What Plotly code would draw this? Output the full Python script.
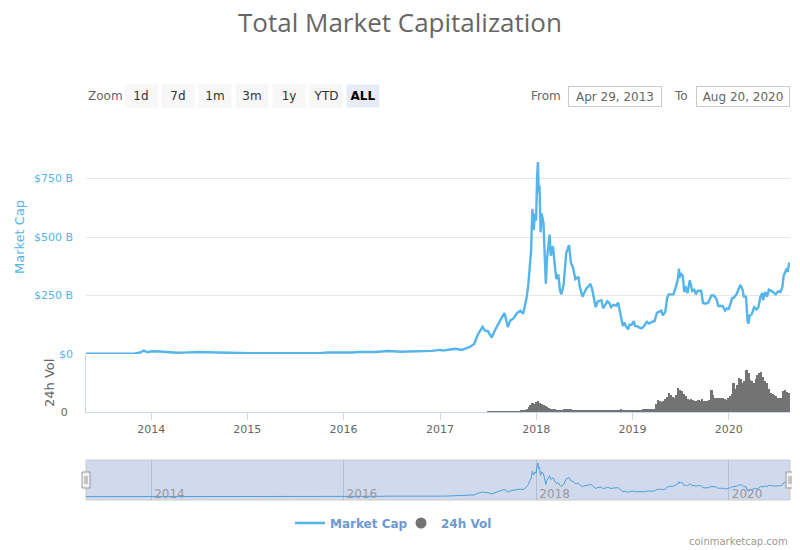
import pandas as pd
import plotly.graph_objects as go

# total market cap, billions of USD
mcap_dates = [
    "2013-04-29", "2013-06-01", "2013-07-05", "2013-08-01", "2013-09-01", "2013-10-01",
    "2013-11-01", "2013-11-20", "2013-12-04", "2013-12-18", "2014-01-05", "2014-02-01",
    "2014-03-01", "2014-04-10", "2014-05-01", "2014-06-03", "2014-07-01", "2014-08-01",
    "2014-09-01", "2014-10-01", "2014-11-01", "2014-12-01", "2015-01-01", "2015-01-15",
    "2015-03-01", "2015-05-01", "2015-07-01", "2015-08-01", "2015-09-01", "2015-10-01",
    "2015-11-04", "2015-12-01", "2016-01-01", "2016-02-01", "2016-03-01", "2016-04-01",
    "2016-05-01", "2016-06-16", "2016-07-01", "2016-08-05", "2016-09-01", "2016-10-01",
    "2016-11-01", "2016-12-01", "2017-01-01", "2017-01-12", "2017-02-01", "2017-03-01",
    "2017-03-24", "2017-04-10", "2017-04-25", "2017-05-10", "2017-05-25", "2017-06-11",
    "2017-06-20", "2017-07-01", "2017-07-16", "2017-07-25", "2017-08-05", "2017-08-20",
    "2017-09-02", "2017-09-15", "2017-09-25", "2017-10-05", "2017-10-20", "2017-11-01",
    "2017-11-12", "2017-11-25", "2017-12-01", "2017-12-08", "2017-12-12", "2017-12-17",
    "2017-12-22", "2017-12-27", "2017-12-31", "2018-01-04", "2018-01-07", "2018-01-10",
    "2018-01-13", "2018-01-17", "2018-01-21", "2018-01-28", "2018-02-02", "2018-02-06",
    "2018-02-10", "2018-02-20", "2018-02-25", "2018-03-05", "2018-03-12", "2018-03-18",
    "2018-03-25", "2018-04-01", "2018-04-06", "2018-04-15", "2018-04-24", "2018-05-05",
    "2018-05-12", "2018-05-20", "2018-05-29", "2018-06-10", "2018-06-14", "2018-06-25",
    "2018-07-01", "2018-07-10", "2018-07-18", "2018-07-25", "2018-08-01", "2018-08-08",
    "2018-08-14", "2018-08-22", "2018-08-31", "2018-09-05", "2018-09-11", "2018-09-20",
    "2018-09-27", "2018-10-05", "2018-10-11", "2018-10-20", "2018-10-31", "2018-11-07",
    "2018-11-14", "2018-11-20", "2018-11-25", "2018-12-01", "2018-12-07", "2018-12-15",
    "2018-12-20", "2018-12-28", "2019-01-06", "2019-01-10", "2019-01-20", "2019-01-28",
    "2019-02-06", "2019-02-15", "2019-02-24", "2019-03-05", "2019-03-15", "2019-03-25",
    "2019-04-03", "2019-04-10", "2019-04-20", "2019-04-26", "2019-05-05", "2019-05-12",
    "2019-05-18", "2019-05-25", "2019-06-05", "2019-06-15", "2019-06-22", "2019-06-26",
    "2019-06-28", "2019-07-02", "2019-07-10", "2019-07-16", "2019-07-20", "2019-07-28",
    "2019-08-06", "2019-08-15", "2019-08-23", "2019-08-29", "2019-09-05", "2019-09-18",
    "2019-09-25", "2019-10-05", "2019-10-15", "2019-10-27", "2019-11-05", "2019-11-15",
    "2019-11-22", "2019-11-30", "2019-12-08", "2019-12-18", "2019-12-25", "2020-01-01",
    "2020-01-08", "2020-01-14", "2020-01-20", "2020-01-30", "2020-02-08", "2020-02-14",
    "2020-02-22", "2020-02-27", "2020-03-06", "2020-03-12", "2020-03-16", "2020-03-20",
    "2020-03-28", "2020-04-06", "2020-04-15", "2020-04-22", "2020-04-30", "2020-05-07",
    "2020-05-10", "2020-05-18", "2020-05-25", "2020-06-01", "2020-06-10", "2020-06-18",
    "2020-06-27", "2020-07-06", "2020-07-15", "2020-07-22", "2020-07-27", "2020-08-02",
    "2020-08-08", "2020-08-11", "2020-08-17", "2020-08-20",
]
mcap_values = [
    1.5, 1.3, 0.9, 1.2, 1.7, 1.7,
    2.6, 6.5, 15.0, 7.5, 11.5, 11.0,
    8.0, 5.5, 6.0, 8.5, 8.3, 7.5,
    6.5, 5.0, 4.8, 5.4, 4.8, 2.9,
    3.9, 3.6, 4.2, 3.7, 3.7, 3.9,
    6.8, 6.2, 7.0, 6.5, 8.5, 7.5,
    8.5, 13.0, 12.0, 9.5, 11.0, 11.5,
    12.5, 13.5, 17.7, 14.5, 18.0, 22.5,
    17.5, 26, 31, 43, 85, 116,
    100, 98, 70, 95, 120, 150,
    175, 115, 145, 150, 175, 185,
    172, 240, 290, 395, 440, 620,
    530, 600, 570, 760, 820, 690,
    720, 520, 600, 560, 400, 300,
    400, 510, 420, 460, 380, 320,
    340, 270, 255, 300, 430, 465,
    390, 370, 320, 330, 290, 245,
    260, 280, 290, 300, 275, 235,
    200, 225, 230, 230, 195, 215,
    225, 218, 200, 210, 206, 220,
    185, 145, 120, 135, 118, 105,
    125, 125, 140, 120, 118, 112,
    110, 122, 138, 130, 137, 140,
    175, 180, 185, 165, 180, 240,
    255, 255, 255, 290, 320, 365,
    325, 345, 335, 265, 290, 260,
    315, 270, 275, 255, 270, 270,
    218, 215, 220, 250, 250, 235,
    205, 205, 205, 185, 195, 193,
    220, 240, 240, 255, 280, 295,
    275, 245, 245, 140, 130, 165,
    170, 200, 190, 200, 245, 260,
    230, 265, 245, 275, 270, 262,
    255, 268, 265, 285, 335, 350,
    365, 350, 390, 380,
]

# 24h volume, billions of USD, one bar per week (Mondays) from 3 July 2017
vol_start = "2017-07-03"
vol_values = [
    # 2017 Jul-Dec
    1, 1, 1, 1, 2,   2, 3, 2, 2,   3, 2, 2, 2,
    2, 2, 3, 3, 4,   6, 8, 12, 15,   25, 38, 45, 40,
    # 2018
    52, 57, 45, 40, 35,   30, 25, 20, 18,   15, 14, 12, 12,
    11, 12, 15, 16, 18,   16, 14, 12, 11,   10, 10, 9, 10,
    10, 11, 12, 11, 10,   10, 9, 9, 9,   9, 9, 9, 10,
    9, 9, 8, 8, 8,   9, 12, 14, 12,   12, 11, 11, 11, 11,
    # 2019
    11, 11, 10, 10,   12, 14, 16, 17,   16, 17, 17, 18,
    40, 60, 55, 52, 55,   65, 80, 100, 90,   80, 75, 90, 125,
    115, 110, 95, 85, 65,   60, 65, 60, 55,   55, 60, 55, 65, 55,
    55, 55, 60, 115,   90, 75, 70, 72,   75, 70, 65, 60, 70,
    # 2020 Jan-Aug
    85, 95, 150, 120,   140, 175, 170, 150,   160, 215, 200, 165, 160,
    150, 170, 190, 200,   205, 180, 160, 150,   120, 100, 95, 90, 85,
    75, 70, 75, 110,   115, 105, 100,
]
vol_dates = pd.date_range(vol_start, periods=len(vol_values), freq="7D")

year_ticks = ["2014-01-01", "2015-01-01", "2016-01-01", "2017-01-01",
              "2018-01-01", "2019-01-01", "2020-01-01"]
year_labels = ["2014", "2015", "2016", "2017", "2018", "2019", "2020"]
nav_ticks = ["2014-01-01", "2016-01-01", "2018-01-01", "2020-01-01"]
nav_labels = ["2014", "2016", "2018", "2020"]
cap_ticks = [0, 250, 500, 750, 1000]
cap_labels = ["$0", "$250 B", "$500 B", "$750 B", ""]

x_range = ["2013-04-29", "2020-08-20"]
# the page body puts the figure 8px in from the top-left corner of the window,
# so the figure is made smaller and all positions below are window pixels
OFF = 8
W, H = 800 - OFF, 550 - OFF
L = 86 - OFF
R = W - (790 - OFF)
blue = "#55b4ea"
font = "DejaVu Sans"


def px_x(px):
    return (px - OFF - L) / (W - L - R)


def px_y(py):
    return 1 - (py - OFF) / H


fig = go.Figure()

fig.add_trace(go.Scatter(x=mcap_dates, y=mcap_values, name="Market Cap",
                         mode="lines", line=dict(color=blue, width=2.4),
                         xaxis="x", yaxis="y", legendgroup="cap"))
fig.add_trace(go.Bar(x=vol_dates, y=vol_values, name="24h Vol",
                     marker=dict(color="#737373", line=dict(width=0)),
                     width=7 * 24 * 3600 * 1000, xaxis="x2", yaxis="y2",
                     showlegend=False, legendgroup="vol"))
# legend entry for the volume series (circle symbol as in the original)
fig.add_trace(go.Scatter(x=[None], y=[None], name="24h Vol", mode="markers",
                         marker=dict(color="#737373", size=11, symbol="circle"),
                         xaxis="x2", yaxis="y2", legendgroup="vol"))
# navigator
fig.add_trace(go.Scatter(x=mcap_dates, y=mcap_values, mode="lines",
                         line=dict(color="#4f9fdc", width=1),
                         xaxis="x3", yaxis="y3", showlegend=False, hoverinfo="skip"))

fig.update_layout(
    width=W, height=H,
    margin=dict(l=L, r=R, t=0, b=0, autoexpand=False),
    paper_bgcolor="white", plot_bgcolor="white",
    font=dict(family=font, size=11, color="#666666"),
    bargap=0,
    title=dict(text="Total Market Capitalization", x=px_x(400), xref="paper",
               y=px_y(23), yref="container", yanchor="middle", xanchor="center",
               font=dict(family="Open Sans", size=26, color="#666666")),
    xaxis=dict(domain=[0, 1], anchor="y", range=x_range, type="date",
               showticklabels=False, showgrid=False, zeroline=False, ticks=""),
    yaxis=dict(domain=[px_y(354), px_y(120)], anchor="x", range=[0, 1000],
               tickvals=cap_ticks, ticktext=cap_labels, gridcolor="#e6e6e6",
               zeroline=False, tickfont=dict(color=blue, size=11),
               ticklabelstandoff=12),
    xaxis2=dict(domain=[0, 1], anchor="y2", range=x_range, type="date",
                tickvals=year_ticks, ticktext=year_labels, ticks="outside",
                ticklen=7, tickcolor="#ccd6eb", showline=True, linecolor="#ccd6eb",
                showgrid=False, zeroline=False, tickfont=dict(size=11, color="#666666")),
    yaxis2=dict(domain=[px_y(412), px_y(354)], anchor="x2", range=[0, 300],
                tickvals=[0], ticktext=["0"], showgrid=False, zeroline=False,
                showline=True, linecolor="#ccd6eb", ticklabelstandoff=15),
    xaxis3=dict(domain=[0, 1], anchor="y3", range=x_range, type="date",
                tickvals=nav_ticks, ticktext=nav_labels, ticks="",
                ticklabelposition="inside right", ticklabelstandoff=-6,
                ticklabelshift=3, showgrid=True,
                gridcolor="rgba(60,70,90,0.18)", zeroline=False,
                tickfont=dict(size=12, color="#999999")),
    yaxis3=dict(domain=[px_y(500), px_y(460)], anchor="x3", range=[-80, 893],
                showticklabels=False, showgrid=False, zeroline=False),
    legend=dict(orientation="h", x=px_x(401), xanchor="center", y=px_y(523),
                yanchor="middle", font=dict(family=font, size=12, color="#6c99d1",
                                            weight="bold"),
                itemwidth=30, entrywidth=66, traceorder="normal"),
    showlegend=True,
)

# axis titles placed like the original
fig.add_annotation(text="Market Cap", xref="paper", yref="paper", x=px_x(20), y=px_y(237),
                   textangle=-90, showarrow=False, xanchor="center", yanchor="middle",
                   font=dict(size=13, color=blue))
fig.add_annotation(text="24h Vol", xref="paper", yref="paper", x=px_x(49), y=px_y(383),
                   textangle=-90, showarrow=False, xanchor="center", yanchor="middle",
                   font=dict(size=13, color="#666666"))

# navigator mask and outline
fig.add_shape(type="rect", xref="x3 domain", yref="y3 domain", x0=0, x1=1, y0=0, y1=1,
              fillcolor="rgba(102,133,194,0.3)", line=dict(width=1, color="#cccccc"),
              layer="below")
for side in [0, 1]:
    fig.add_shape(type="rect", xref="paper", yref="paper", xsizemode="pixel", xanchor=side,
                  x0=-4, x1=4, y0=px_y(488), y1=px_y(472),
                  fillcolor="#f2f2f2", line=dict(color="#999999", width=1))
    for dx in [-1, 1]:
        fig.add_shape(type="line", xref="paper", yref="paper", xsizemode="pixel",
                      xanchor=side, x0=dx, x1=dx, y0=px_y(484), y1=px_y(476),
                      line=dict(color="#999999", width=1))

# range selector look-alike
fig.add_annotation(text="Zoom", xref="paper", yref="paper", x=px_x(86), y=px_y(96),
                   xanchor="left", yanchor="middle", showarrow=False,
                   font=dict(size=12, color="#666666"))
buttons = ["1d", "7d", "1m", "3m", "1y", "YTD", "ALL"]
for i, b in enumerate(buttons):
    active = b == "ALL"
    fig.add_annotation(text="<b>%s</b>" % b if active else b, xref="paper", yref="paper",
                       x=px_x(141 + 37 * i), y=px_y(96), xanchor="center", yanchor="middle",
                       showarrow=False, width=32, height=22, borderpad=0,
                       bgcolor="#e6ebf5" if active else "#f7f7f7",
                       font=dict(size=12, color="#000000" if active else "#333333"))
fig.add_annotation(text="From", xref="paper", yref="paper", x=px_x(563), y=px_y(96),
                   xanchor="right", yanchor="middle", showarrow=False,
                   font=dict(size=12, color="#666666"))
fig.add_annotation(text="To", xref="paper", yref="paper", x=px_x(690), y=px_y(96),
                   xanchor="right", yanchor="middle", showarrow=False,
                   font=dict(size=12, color="#666666"))
for cx, txt in [(615, "Apr 29, 2013"), (743, "Aug 20, 2020")]:
    fig.add_annotation(text=txt, xref="paper", yref="paper", x=px_x(cx), y=px_y(96),
                       xanchor="center", yanchor="middle",
                       showarrow=False, width=92, height=19, borderpad=0,
                       bordercolor="#cccccc", borderwidth=1, bgcolor="white",
                       font=dict(size=12, color="#666666"))
fig.add_annotation(text="coinmarketcap.com", xref="paper", yref="paper",
                   x=px_x(790), y=px_y(541), xanchor="right", yanchor="middle",
                   showarrow=False, font=dict(size=10, color="#999999"))

fig.write_html("out.html")
